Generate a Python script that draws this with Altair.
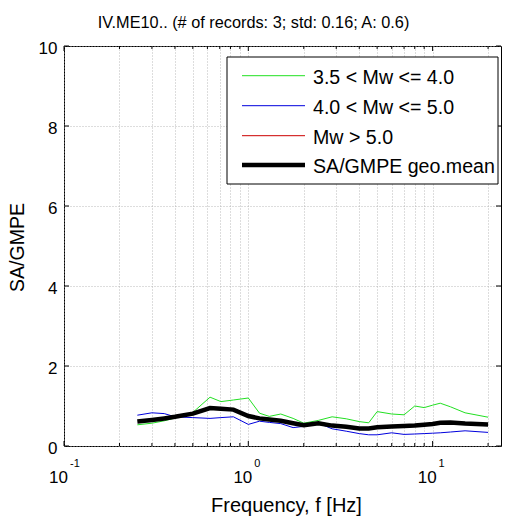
import altair as alt
import pandas as pd

# ---------------- data ----------------
freq = [0.25, 0.3, 0.35, 0.4, 0.5, 0.62, 0.71, 0.83, 1.0, 1.15, 1.3, 1.5, 1.75, 2.0,
        2.4, 2.85, 3.4, 4.0, 4.5, 5.0, 6.0, 7.0, 8.0, 9.0, 10.0, 11.0, 12.5, 15.0, 20.0]
green = [0.53, 0.57, 0.63, 0.70, 0.84, 1.22, 1.11, 1.15, 1.20, 0.82, 0.74, 0.80, 0.69, 0.57,
         0.64, 0.73, 0.68, 0.61, 0.58, 0.86, 0.80, 0.78, 1.00, 0.96, 1.02, 1.07, 0.98, 0.83, 0.72]
blue = [0.77, 0.83, 0.81, 0.73, 0.71, 0.69, 0.71, 0.73, 0.54, 0.62, 0.59, 0.56, 0.46, 0.49,
        0.57, 0.43, 0.37, 0.31, 0.28, 0.28, 0.33, 0.29, 0.30, 0.31, 0.32, 0.33, 0.35, 0.38, 0.34]
geomean = [0.61, 0.65, 0.69, 0.73, 0.81, 0.95, 0.93, 0.91, 0.75, 0.69, 0.66, 0.63, 0.57, 0.52,
           0.57, 0.51, 0.48, 0.44, 0.44, 0.47, 0.49, 0.50, 0.51, 0.53, 0.55, 0.58, 0.59, 0.56, 0.54]

legend_labels = ["3.5 < Mw <= 4.0", "4.0 < Mw <= 5.0", "Mw > 5.0", "SA/GMPE geo.mean"]
legend_colors = ["#22e022", "#0000dd", "#cc0000", "#000000"]
legend_widths = [1, 1, 1, 4.5]

y_ticks = [0, 2, 4, 6, 8, 10]
x_major = [0.1, 1, 10]
x_sup = ["-1", "0", "1"]
x_minor = [0.2, 0.3, 0.4, 0.5, 0.6, 0.7, 0.8, 0.9, 2, 3, 4, 5, 6, 7, 8, 9, 20]
x_grid = sorted(x_major + x_minor)

title_text = "IV.ME10.. (# of records: 3; std: 0.16; A: 0.6)"

# ---------------- layout ----------------
W, H = 437, 400
FONT = "Liberation Sans"
GRID = dict(grid=True, gridColor="#a8a8a8", gridDash=[1, 2], gridWidth=0.8)

xs = alt.Scale(type="log", domain=[0.1, 23.5], nice=False)
ys = alt.Scale(domain=[0, 10], nice=False, zero=False)

xaxis = alt.Axis(values=x_grid, labels=False, ticks=False, tickSize=0, domain=False,
                 title="Frequency, f [Hz]", titleFont=FONT, titleFontSize=20,
                 titleFontWeight="normal", titleColor="black", titleX=222, titleY=65,
                 titleBaseline="alphabetic", titleAlign="center", **GRID)
yaxis = alt.Axis(values=y_ticks, labels=True, labelFont=FONT, labelFontSize=17,
                 labelColor="black", labelPadding=7, labelOffset=2, ticks=False, tickSize=0,
                 domain=False, title="SA/GMPE", titleFont=FONT, titleFontSize=19.5,
                 titleFontWeight="normal", titleColor="black", titleX=-41, titleY=201,
                 titleAngle=-90, titleBaseline="alphabetic", titleAlign="center", **GRID)

xenc = alt.X("f:Q", scale=xs, axis=xaxis)
yenc = alt.Y("sa:Q", scale=ys, axis=yaxis)

n = len(freq)
df_thin = pd.DataFrame({
    "f": freq * 2,
    "sa": green + blue,
    "series": [legend_labels[0]] * n + [legend_labels[1]] * n,
})
thin = alt.Chart(df_thin).mark_line(strokeWidth=1, clip=True).encode(
    x=xenc, y=yenc,
    color=alt.Color("series:N", scale=alt.Scale(domain=legend_labels[:2], range=legend_colors[:2]),
                    legend=None),
)
mean = alt.Chart(pd.DataFrame({"f": freq, "sa": geomean})).mark_line(
    strokeWidth=4.5, color="black", clip=True).encode(x=xenc, y=yenc)

# inward ticks (matlab style)
df_yt = pd.DataFrame({"sa": y_ticks})
yt_left = alt.Chart(df_yt).mark_rule(color="black", strokeWidth=1).encode(
    y=yenc, x=alt.value(0), x2=alt.value(5))
yt_right = alt.Chart(df_yt).mark_rule(color="black", strokeWidth=1).encode(
    y=yenc, x=alt.value(W - 5), x2=alt.value(W))
df_xmaj = pd.DataFrame({"f": x_major})
df_xmin = pd.DataFrame({"f": x_minor})
xt = []
for d, L in ((df_xmaj, 5), (df_xmin, 3)):
    xt.append(alt.Chart(d).mark_rule(color="black", strokeWidth=1).encode(
        x=xenc, y=alt.value(H - L), y2=alt.value(H)))
    xt.append(alt.Chart(d).mark_rule(color="black", strokeWidth=1).encode(
        x=xenc, y=alt.value(0), y2=alt.value(L)))

# decade tick labels 10^k
df_lab = pd.DataFrame({"f": x_major, "sup": x_sup})
lab_base = alt.Chart(df_lab).mark_text(text="10", align="right", baseline="alphabetic", dx=4,
                                       font=FONT, fontSize=17, color="black").encode(
    x=xenc, y=alt.value(H + 37))
lab_sup = alt.Chart(df_lab).mark_text(align="left", baseline="alphabetic", dx=6,
                                      font=FONT, fontSize=11, color="black").encode(
    x=xenc, y=alt.value(H + 21), text="sup:N")

# legend box (inside plot)
one = pd.DataFrame({"k": [0]})
leg = [alt.Chart(one).mark_rect(fill="white", stroke="black", strokeWidth=1).encode(
    x=alt.value(163), x2=alt.value(434), y=alt.value(11), y2=alt.value(138))]
row_y = [29.7, 59.7, 89.7, 119]
for lab, col, wd, ry in zip(legend_labels, legend_colors, legend_widths, row_y):
    leg.append(alt.Chart(one).mark_rule(color=col, strokeWidth=wd).encode(
        x=alt.value(178), x2=alt.value(241), y=alt.value(ry)))
    leg.append(alt.Chart(one).mark_text(text=lab, align="left", baseline="middle", font=FONT,
                                        fontSize=19.6, color="black").encode(
        x=alt.value(249), y=alt.value(ry + 2)))

chart = alt.layer(
    thin, mean, yt_left, yt_right, *xt, lab_base, lab_sup, *leg
).properties(
    width=W, height=H,
    title=alt.TitleParams(title_text, font=FONT, fontSize=16.3, fontWeight="normal", color="black",
                          anchor="middle", dx=-29, dy=23, offset=18, baseline="alphabetic"),
    autosize=alt.AutoSizeParams(type="none"),
    padding={"left": 64, "top": 46, "right": 8, "bottom": 72},
    background="white",
).configure_view(stroke="black", strokeWidth=1)

chart.save("out.html", embed_options={"renderer": "svg", "actions": False})
